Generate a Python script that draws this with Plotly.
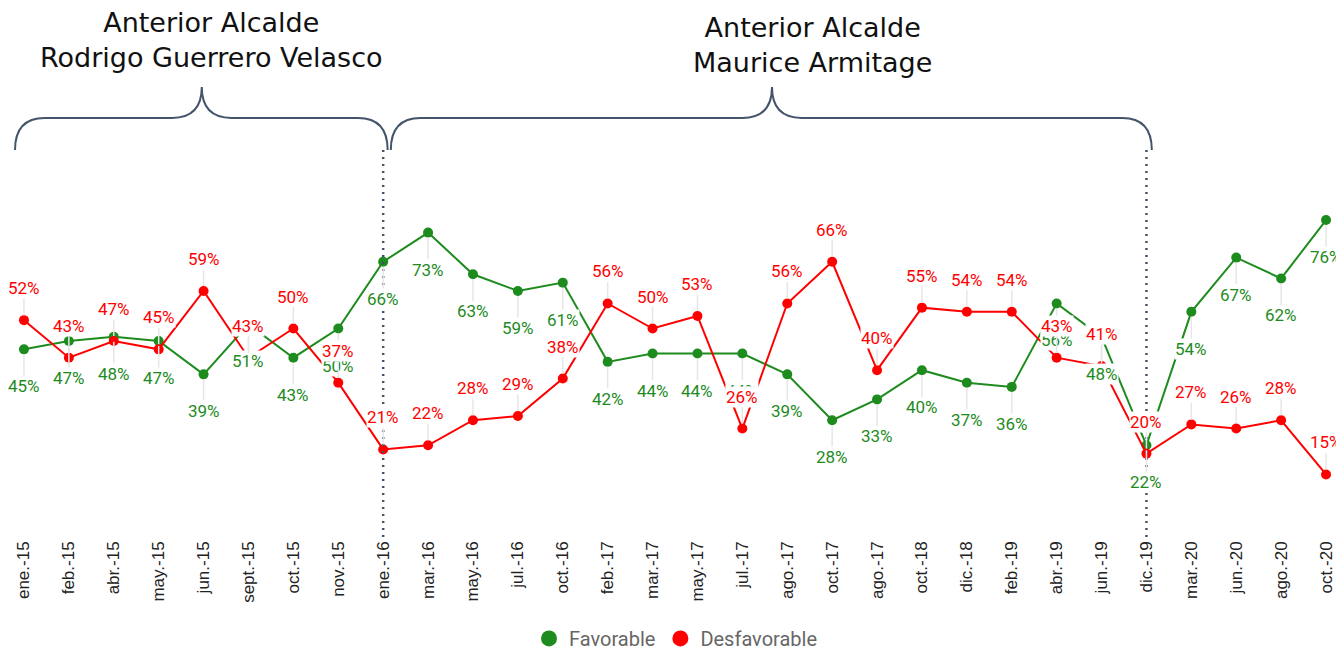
import plotly.graph_objects as go

# Datos: imagen de los alcaldes de Cali (encuestas)
fechas = ['ene.-15', 'feb.-15', 'abr.-15', 'may.-15', 'jun.-15', 'sept.-15', 'oct.-15', 'nov.-15',
          'ene.-16', 'mar.-16', 'may.-16', 'jul.-16', 'oct.-16', 'feb.-17', 'mar.-17', 'may.-17',
          'jul.-17', 'ago.-17', 'oct.-17', 'ago.-17', 'oct.-18', 'dic.-18', 'feb.-19', 'abr.-19',
          'jun.-19', 'dic.-19', 'mar.-20', 'jun.-20', 'ago.-20', 'oct.-20']
favorable = [45, 47, 48, 47, 39, 51, 43, 50, 66, 73, 63, 59, 61, 42, 44, 44,
             44, 39, 28, 33, 40, 37, 36, 56, 48, 22, 54, 67, 62, 76]
desfavorable = [52, 43, 47, 45, 59, 43, 50, 37, 21, 22, 28, 29, 38, 56, 50, 53,
                26, 56, 66, 40, 55, 54, 54, 43, 41, 20, 27, 26, 28, 15]

# periodos de cada alcalde: texto, inicio, fin, punta de la llave (en indices de fecha)
periodos = [
    ('Anterior Alcalde<br>Rodrigo Guerrero Velasco', -0.2, 8.1, 3.96, 4.18, 1.192),
    ('Anterior Alcalde<br>Maurice Armitage', 8.17, 25.12, 16.66, 17.57, 1.179),
]
cortes = [8, 25]

verde = '#1e8b1e'
rojo = '#ff0000'
x = list(range(len(fechas)))


def llave(x0, x1, xc, yb=0.928, ym=1.005, yt=1.079, r=0.66):
    return (f"M {x0},{yb} Q {x0},{ym} {x0 + r},{ym} L {xc - r},{ym} "
            f"Q {xc},{ym} {xc},{yt} Q {xc},{ym} {xc + r},{ym} "
            f"L {x1 - r},{ym} Q {x1},{ym} {x1},{yb}")


fig = go.Figure()
fig.add_trace(go.Scatter(x=x, y=favorable, mode='lines+markers', name='Favorable',
                         line=dict(color=verde, width=2), marker=dict(size=10, color=verde),
                         showlegend=False, hoverinfo='skip'))
fig.add_trace(go.Scatter(x=x, y=desfavorable, mode='lines+markers', name='Desfavorable',
                         line=dict(color=rojo, width=2), marker=dict(size=10, color=rojo),
                         showlegend=False, hoverinfo='skip'))
# solo para la leyenda
for nombre, color in [('Favorable', verde), ('Desfavorable', rojo)]:
    fig.add_trace(go.Scatter(x=[None], y=[None], mode='markers', name=nombre,
                             marker=dict(size=16, color=color)))

anotaciones = []
for serie, color, dy in [(favorable, verde, 37), (desfavorable, rojo, -32)]:
    for i, v in enumerate(serie):
        anotaciones.append(dict(
            x=i, y=v, xref='x', yref='y', text=f'{v}%', showarrow=True, arrowhead=0,
            arrowwidth=1.5, arrowcolor='#e6e6e6', ax=0, ay=dy, standoff=5,
            bgcolor='white', borderpad=0,
            font=dict(family='Roboto', size=17, color=color)))

for texto, x0, x1, xc, tx, ty in periodos:
    anotaciones.append(dict(
        x=tx, y=ty, xref='x', yref='paper', text=texto, showarrow=False,
        xanchor='center', yanchor='middle',
        font=dict(family='DejaVu Sans', size=27, color='#111111')))

formas = []
for texto, x0, x1, xc, tx, ty in periodos:
    formas.append(dict(type='path', path=llave(x0, x1, xc), xref='x', yref='paper',
                       line=dict(color='#44546a', width=2)))
for c in cortes:
    formas.append(dict(type='line', x0=c, x1=c, y0=0, y1=0.928, xref='x', yref='paper',
                       line=dict(color='#44546a', width=2.5, dash='2px,5px')))

# la pagina deja 8px de margen, asi que la figura es 8px mas chica
fig.update_layout(
    width=1336, height=642,
    margin=dict(l=0, r=0, t=112, b=113),
    plot_bgcolor='white', paper_bgcolor='white',
    xaxis=dict(range=[-0.356, 29.40], tickmode='array', tickvals=x, ticktext=fechas,
               tickangle=-90, showgrid=False, zeroline=False, showline=False, ticks='',
               tickfont=dict(family='Liberation Sans', size=17, color='#222222')),
    yaxis=dict(range=[0, 100], visible=False),
    legend=dict(orientation='h', x=0.5, xanchor='center', yref='container', y=0.018,
                yanchor='middle', font=dict(family='Roboto', size=20, color='#666666')),
    annotations=anotaciones,
    shapes=formas,
)

fig.write_html('out.html')
